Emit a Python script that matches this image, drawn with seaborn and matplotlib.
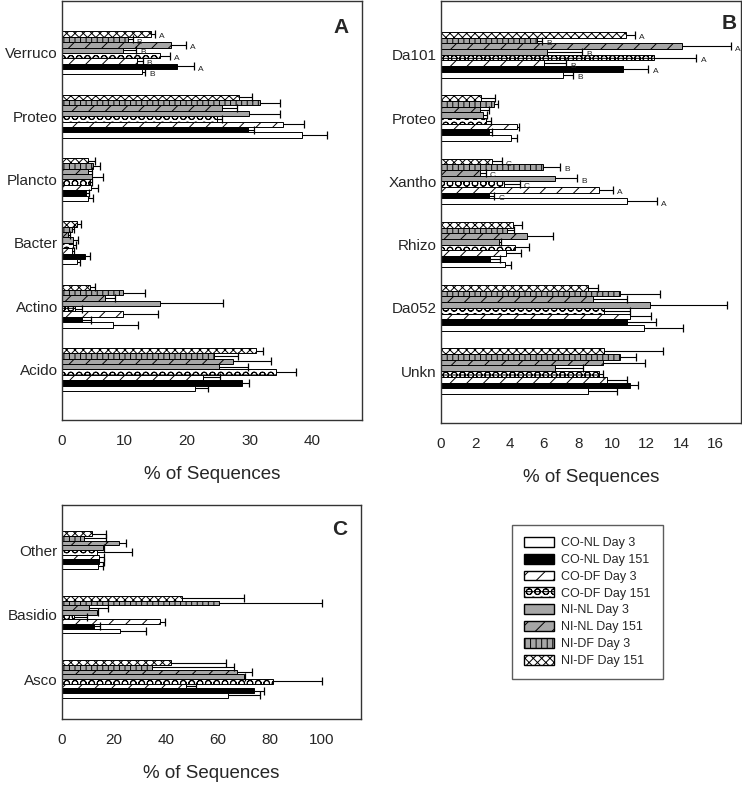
import numpy as np
import pandas as pd
import seaborn as sns
import matplotlib.pyplot as plt
from matplotlib.patches import Patch

# treatments, in legend order (legend top = bottom bar of each group)
treatments = ['CO-NL Day 3', 'CO-NL Day 151', 'CO-DF Day 3', 'CO-DF Day 151',
              'NI-NL Day 3', 'NI-NL Day 151', 'NI-DF Day 3', 'NI-DF Day 151']
fills = ['white', 'black', 'white', 'white', '#a6a6a6', '#a6a6a6', '#a6a6a6', 'white']
hatches = ['', '', '//', 'OO-', '', '//', '|||', 'xxxx']

# panel A - bacterial phyla
a_groups = ['Verruco', 'Proteo', 'Plancto', 'Bacter', 'Actino', 'Acido']
a_means = [[12.8, 18.4, 12.0, 15.6, 9.8, 17.5, 10.5, 14.3],
           [38.4, 29.7, 35.4, 24.8, 29.9, 25.6, 31.7, 28.3],
           [4.2, 3.8, 4.6, 4.4, 4.8, 4.1, 5.0, 4.1],
           [2.4, 3.7, 1.6, 1.7, 1.7, 0.9, 1.6, 2.4],
           [8.1, 3.2, 9.8, 2.1, 15.6, 6.8, 9.7, 4.4],
           [21.2, 28.8, 22.5, 34.2, 25.1, 27.3, 24.3, 31.0]]
a_errs = [[0.5, 2.7, 0.9, 1.6, 2.1, 2.3, 0.8, 0.5],
          [4.0, 1.0, 3.3, 0.8, 4.9, 2.4, 3.1, 2.1],
          [0.7, 0.5, 1.1, 0.4, 1.8, 0.7, 1.1, 1.2],
          [0.5, 0.8, 0.3, 0.5, 0.8, 0.3, 0.3, 0.6],
          [4.0, 1.4, 5.5, 1.1, 10.1, 1.6, 3.5, 0.8],
          [2.1, 1.1, 2.8, 3.3, 4.6, 6.1, 3.9, 1.1]]
a_letters = {'Verruco': ['B', 'A', 'B', 'A', 'B', 'A', 'B', 'A']}

# panel B - bacterial genera
b_groups = ['Da101', 'Proteo', 'Xantho', 'Rhizo', 'Da052', 'Unkn']
b_means = [[7.1, 10.6, 6.0, 12.4, 6.2, 14.05, 5.6, 10.8],
           [4.1, 2.8, 4.45, 2.6, 2.45, 2.3, 3.1, 2.35],
           [10.85, 2.8, 9.2, 3.65, 6.65, 2.3, 5.95, 2.95],
           [3.75, 2.85, 3.8, 4.3, 3.4, 5.0, 3.85, 4.2],
           [11.85, 10.85, 11.0, 9.5, 12.2, 8.85, 10.45, 8.55],
           [8.55, 11.05, 9.7, 9.2, 6.65, 9.45, 10.45, 9.5]]
b_errs = [[0.6, 1.5, 1.3, 2.5, 2.05, 2.85, 0.3, 0.5],
          [0.35, 0.2, 0.12, 0.3, 0.22, 0.5, 0.2, 0.8],
          [1.75, 0.3, 0.85, 0.95, 1.3, 0.3, 1.0, 0.6],
          [0.33, 0.6, 0.85, 0.85, 0.1, 1.55, 0.4, 0.55],
          [2.25, 1.7, 1.25, 1.5, 4.5, 2.0, 2.3, 0.6],
          [1.7, 0.45, 1.15, 0.27, 1.65, 2.45, 0.95, 3.45]]
b_letters = {'Da101': ['B', 'A', 'B', 'A', 'B', 'A', 'B', 'A'],
             'Xantho': ['A', 'C', 'A', 'C', 'B', 'C', 'B', 'C']}

# panel C - fungi
c_groups = ['Other', 'Basidio', 'Asco']
c_means = [[13.7, 14.2, 14.2, 13.5, 15.8, 22.0, 8.4, 11.6],
           [22.2, 12.3, 37.8, 4.7, 13.5, 10.3, 60.2, 46.3],
           [63.8, 73.8, 47.8, 81.3, 70.0, 67.4, 34.8, 42.1]]
c_errs = [[2.1, 2.0, 2.0, 13.6, 0.3, 2.5, 8.5, 5.3],
          [10.0, 2.5, 1.7, 5.0, 0.3, 7.2, 39.8, 23.7],
          [12.2, 3.7, 3.9, 18.7, 0.3, 5.6, 31.3, 21.1]]
c_letters = {}


def to_frame(groups, means, errs):
    rows = []
    for g, m, e in zip(groups, means, errs):
        for t, v, s in zip(treatments, m, e):
            rows.append({'group': g, 'treatment': t, 'pct': v, 'err': s})
    return pd.DataFrame(rows)


def draw_panel(ax, groups, means, errs, letters, xmax, ticks, span, pads, tag, tag_xy):
    df = to_frame(groups, means, errs)
    order = treatments[::-1]   # first hue is drawn on top
    pal = dict(zip(treatments, fills))
    sns.barplot(data=df, y='group', x='pct', hue='treatment', hue_order=order,
                order=groups, orient='h', width=span, errorbar=None, palette=pal,
                saturation=1, edgecolor='black', linewidth=0.7, legend=False, ax=ax)
    for cont, t in zip(ax.containers, order):
        k = treatments.index(t)
        for j, bar in enumerate(cont):
            bar.set_hatch(hatches[k])
            yc = bar.get_y() + bar.get_height() / 2
            x0 = bar.get_width()
            x1 = x0 + errs[j][k]
            ax.hlines(yc, x0, x1, color='black', lw=0.8, zorder=3)
            ax.plot([x1], [yc], marker='|', ms=6, mew=0.9, color='black', zorder=3)
            if groups[j] in letters:
                ax.annotate(letters[groups[j]][k], (x1, yc), xytext=(3, -2),
                            textcoords='offset points', fontsize=6, va='center',
                            ha='left', color='#222222')
    ax.set_xlim(0, xmax)
    ax.set_xticks(ticks)
    ax.set_ylim(len(groups) - 1 + pads[1], -pads[0])
    ax.set_ylabel('')
    ax.set_xlabel('% of Sequences', fontsize=13.5, labelpad=13)
    ax.tick_params(axis='x', labelsize=11, length=4, pad=6)
    ax.tick_params(axis='y', labelsize=11, length=0, pad=3)
    for s in ax.spines.values():
        s.set_visible(True)
        s.set_linewidth(1.0)
        s.set_color('#333333')
    ax.text(tag_xy[0], tag_xy[1], tag, transform=ax.transAxes, ha='right', va='top',
            fontsize=15, fontweight='bold')


sns.set_style('white')
plt.rcParams['font.family'] = ['Liberation Sans', 'DejaVu Sans']
plt.rcParams['hatch.linewidth'] = 0.7

W, H = 742, 786
fig = plt.figure(figsize=(W / 100, H / 100), dpi=100)
ax_a = fig.add_axes([62 / W, 1 - 420 / H, 300 / W, 419 / H])
ax_b = fig.add_axes([441 / W, 1 - 423 / H, 300 / W, 422 / H])
ax_c = fig.add_axes([62 / W, 1 - 719 / H, 299 / W, 214 / H])

draw_panel(ax_a, a_groups, a_means, a_errs, a_letters, 48, [0, 10, 20, 30, 40],
           0.68, (0.82, 0.80), 'A', (0.955, 0.96))
draw_panel(ax_b, b_groups, b_means, b_errs, b_letters, 17.5, list(range(0, 17, 2)),
           0.72, (0.85, 0.82), 'B', (0.985, 0.97))
draw_panel(ax_c, c_groups, c_means, c_errs, c_letters, 115, [0, 20, 40, 60, 80, 100],
           0.58, (0.70, 0.62), 'C', (0.955, 0.93))

handles = [Patch(facecolor=fills[k], edgecolor='black', hatch=hatches[k], label=t)
           for k, t in enumerate(treatments)]
leg = fig.legend(handles=handles, loc='upper left', bbox_to_anchor=(512 / W, 1 - 525 / H),
                 frameon=True, fancybox=False, edgecolor='#333333', fontsize=9,
                 handlelength=2.4, handleheight=0.85, labelspacing=0.36,
                 borderpad=0.95, handletextpad=0.6, borderaxespad=0)
leg.get_frame().set_linewidth(1.0)

fig.savefig('out.png', dpi=100)
